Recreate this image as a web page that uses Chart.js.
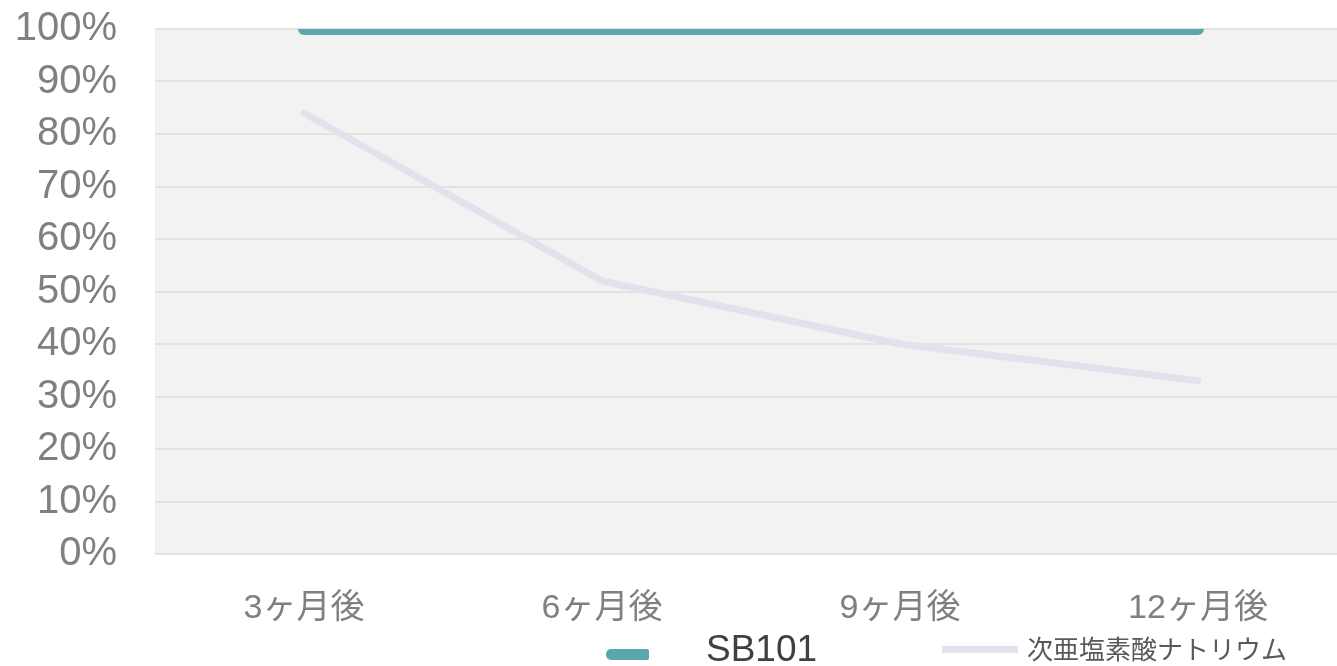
<!DOCTYPE html>
<html>
<head>
<meta charset="utf-8">
<script src="https://cdn.jsdelivr.net/npm/chart.js@4"></script>
<style>
  html, body { margin: 0; padding: 0; background: #fff; overflow: hidden; }
  #wrap { position: relative; width: 1337px; height: 666px; overflow: hidden; }
  #box { position: absolute; left: 0; top: 0; width: 1347px; height: 666px; }
  .lg { position: absolute; font-family: 'Liberation Sans', 'Noto Sans CJK JP', sans-serif; white-space: nowrap; }
  .mk { position: absolute; }
</style>
</head>
<body>
<div id="wrap">
  <div id="box"><canvas id="c" width="1347" height="666"></canvas></div>
  <div class="mk" style="left:606px;top:649px;width:43px;height:11px;background:#5aa8ae;border-radius:5px 2px 2px 5px;"></div>
  <div class="lg" style="left:706px;top:629px;font-size:37px;line-height:40px;color:#404040;">SB101</div>
  <div class="mk" style="left:942px;top:646px;width:76px;height:7px;background:#e0e3eb;"></div>
  <div class="lg" style="left:1027px;top:635px;font-size:26px;line-height:30px;color:#595959;">次亜塩素酸ナトリウム</div>
</div>
<script>
const categories = ['3ヶ月後', '6ヶ月後', '9ヶ月後', '12ヶ月後'];
const seriesNames = ['SB101', '次亜塩素酸ナトリウム'];
const sb101Values = [100, 100, 100, 100];
const naclOValues = [84, 52, 40, 33];
const yTickValues = [0, 10, 20, 30, 40, 50, 60, 70, 80, 90, 100];

const FONT = "'Liberation Sans', 'Noto Sans CJK JP', sans-serif";

const bgPlugin = {
  id: 'areaBg',
  beforeDraw(chart) {
    const a = chart.chartArea, ctx = chart.ctx;
    ctx.save();
    ctx.fillStyle = '#f2f2f2';
    ctx.fillRect(a.left, a.top, a.right - a.left, a.bottom - a.top);
    ctx.restore();
  }
};

new Chart(document.getElementById('c'), {
  type: 'line',
  data: {
    labels: categories,
    datasets: [
      {
        label: seriesNames[0],
        data: sb101Values,
        borderColor: '#5aa8ae',
        borderWidth: 12,
        borderCapStyle: 'round',
        borderJoinStyle: 'round',
        pointRadius: 0,
        tension: 0,
        clip: 0,
        order: 0
      },
      {
        label: seriesNames[1],
        data: naclOValues,
        borderColor: '#e0e3eb',
        borderWidth: 7,
        borderCapStyle: 'round',
        borderJoinStyle: 'round',
        pointRadius: 0,
        tension: 0,
        order: 1
      }
    ]
  },
  options: {
    responsive: false,
    animation: false,
    layout: { padding: 0 },
    plugins: { legend: { display: false }, tooltip: { enabled: false } },
    scales: {
      x: {
        offset: true,
        grid: { display: false },
        border: { display: false },
        ticks: { color: '#808080', font: { family: FONT, size: 34 }, padding: 26, maxRotation: 0, autoSkip: false },
        afterFit(s) { s.height = 112; s.paddingLeft = 0; s.paddingRight = 0; }
      },
      y: {
        min: 0,
        max: 100,
        afterBuildTicks(s) { s.ticks = yTickValues.map(v => ({ value: v })); },
        grid: { color: '#e2e2e2', lineWidth: 2, drawTicks: false },
        border: { display: false },
        ticks: {
          color: '#808080',
          font: { family: FONT, size: 40, lineHeight: 1.2 },
          padding: 38,
          autoSkip: false,
          callback: v => v + '%'
        },
        afterFit(s) { s.width = 155; s.paddingTop = 29; s.paddingBottom = 0; }
      }
    }
  },
  plugins: [bgPlugin]
});
</script>
</body>
</html>
